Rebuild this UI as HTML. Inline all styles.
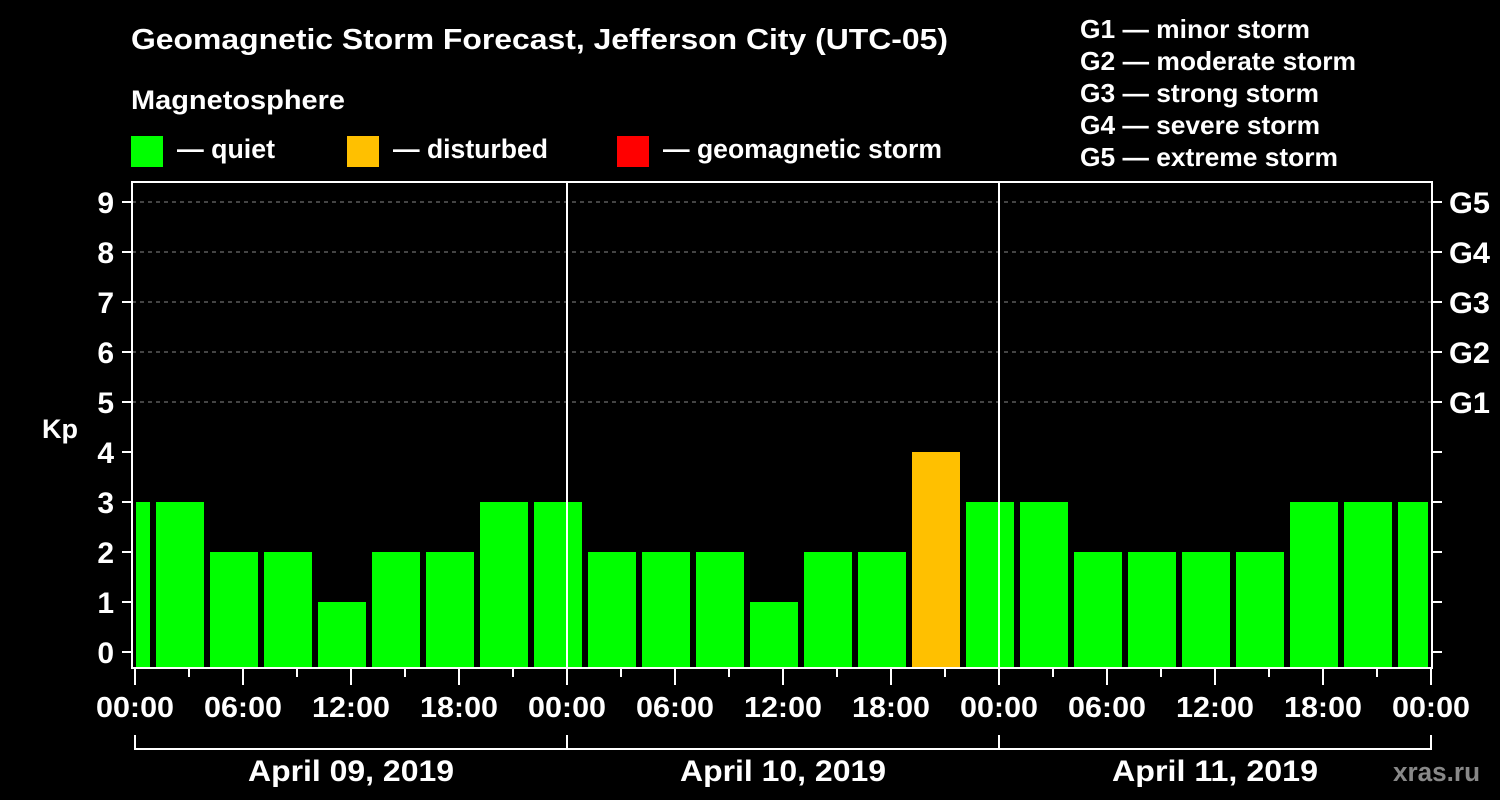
<!DOCTYPE html>
<html><head><meta charset="utf-8"><style>
html,body{margin:0;padding:0;background:#000;}
svg{display:block;font-family:"Liberation Sans",Arial,sans-serif;font-weight:bold;}
</style></head><body>
<svg id="chart" width="1500" height="800" viewBox="0 0 1500 800">
<rect width="1500" height="800" fill="#000"/>
<text x="131" y="49" fill="#fff" font-size="29" textLength="817" lengthAdjust="spacingAndGlyphs">Geomagnetic Storm Forecast, Jefferson City (UTC-05)</text>
<text x="131" y="109" fill="#fff" font-size="27" textLength="214" lengthAdjust="spacingAndGlyphs">Magnetosphere</text>
<g><rect x="131" y="136" width="32" height="31" fill="#00ff00"/><text x="177" y="158" fill="#fff" font-size="27" textLength="98" lengthAdjust="spacingAndGlyphs">— quiet</text></g>
<g><rect x="347" y="136" width="32" height="31" fill="#ffc000"/><text x="393" y="158" fill="#fff" font-size="27" textLength="155" lengthAdjust="spacingAndGlyphs">— disturbed</text></g>
<g><rect x="617" y="136" width="32" height="31" fill="#ff0000"/><text x="663" y="158" fill="#fff" font-size="27" textLength="279" lengthAdjust="spacingAndGlyphs">— geomagnetic storm</text></g>
<g fill="#fff" font-size="26">
<text x="1080" y="38" textLength="230" lengthAdjust="spacingAndGlyphs">G1 — minor storm</text>
<text x="1080" y="70" textLength="276" lengthAdjust="spacingAndGlyphs">G2 — moderate storm</text>
<text x="1080" y="102" textLength="239" lengthAdjust="spacingAndGlyphs">G3 — strong storm</text>
<text x="1080" y="134" textLength="240" lengthAdjust="spacingAndGlyphs">G4 — severe storm</text>
<text x="1080" y="166" textLength="258" lengthAdjust="spacingAndGlyphs">G5 — extreme storm</text>
</g>
<text x="42" y="438" fill="#fff" font-size="27">Kp</text>
<text x="1393" y="781" fill="#888" font-size="27" textLength="87" lengthAdjust="spacingAndGlyphs">xras.ru</text>
<g id="layer"></g>
</svg>
<script>
const kpValues=[3,3,2,2,1,2,2,3,3,2,2,2,1,2,2,4,3,3,2,2,2,2,3,3,3];
const yTicks=[0,1,2,3,4,5,6,7,8,9];
const gLabels=["G1","G2","G3","G4","G5"];
const gLevels=[5,6,7,8,9];
const xLabels=["00:00","06:00","12:00","18:00","00:00","06:00","12:00","18:00","00:00","06:00","12:00","18:00","00:00"];
const dates=["April 09, 2019","April 10, 2019","April 11, 2019"];

const NS="http://www.w3.org/2000/svg";
const L=132,R=1432,T=182,B=668,X0=135,HOUR=18;
const y=v=>652-50*v;
const x=h=>X0+h*HOUR;
const layer=document.getElementById('layer');
function mk(tag,attrs,parent){const e=document.createElementNS(NS,tag);for(const k in attrs)e.setAttribute(k,attrs[k]);(parent||layer).appendChild(e);return e;}

yTicks.forEach(v=>{if(v>=5){const g=mk('line',{x1:L,x2:R,y1:y(v),y2:y(v),stroke:'#888','stroke-dasharray':'4,4'});

}});
kpValues.forEach((v,i)=>{
  let x1=x(3*i-3)+15+6, x2=x1+48;
  x1=Math.max(x1,L+4); x2=Math.min(x2,R-4);
  const r=mk('rect',{x:x1,y:y(v),width:x2-x1,height:B-y(v),fill:v>=5?'#ff0000':(v>=4?'#ffc000':'#00ff00')});
  
  
});
[1,2].forEach(d=>{const l=mk('line',{x1:x(24*d),x2:x(24*d),y1:T,y2:B,stroke:'#fff','stroke-width':2});

});
const fr=mk('rect',{x:L,y:T,width:R-L,height:B-T,fill:'none',stroke:'#fff','stroke-width':2});


yTicks.forEach(v=>{
  mk('line',{x1:122,x2:L,y1:y(v),y2:y(v),stroke:'#fff','stroke-width':2});
  mk('line',{x1:R,x2:1442,y1:y(v),y2:y(v),stroke:'#fff','stroke-width':2});
  const t=mk('text',{x:114,y:y(v)+11,fill:'#fff','font-size':30,'text-anchor':'end'});t.textContent=v;
  
  
});
gLabels.forEach((g,i)=>{const t=mk('text',{x:1449,y:y(gLevels[i])+11,fill:'#fff','font-size':30,textLength:41,lengthAdjust:'spacingAndGlyphs'});t.textContent=g;
  
  });
for(let h=0;h<=72;h+=3){mk('line',{x1:x(h),x2:x(h),y1:B,y2:h%6?677:685,stroke:'#fff','stroke-width':2});}
xLabels.forEach((s,i)=>{const t=mk('text',{x:x(6*i),y:717,fill:'#fff','font-size':29,'text-anchor':'middle',textLength:78,lengthAdjust:'spacingAndGlyphs'});t.textContent=s;
  
  });
mk('line',{x1:x(0),x2:x(72),y1:749,y2:749,stroke:'#fff','stroke-width':2});
for(let d=0;d<=3;d++)mk('line',{x1:x(24*d),x2:x(24*d),y1:735,y2:750,stroke:'#fff','stroke-width':2});
dates.forEach((s,i)=>{const t=mk('text',{x:x(24*i+12),y:781,fill:'#fff','font-size':30,'text-anchor':'middle',textLength:206,lengthAdjust:'spacingAndGlyphs'});t.textContent=s;
  
  });
</script>
</body></html>
